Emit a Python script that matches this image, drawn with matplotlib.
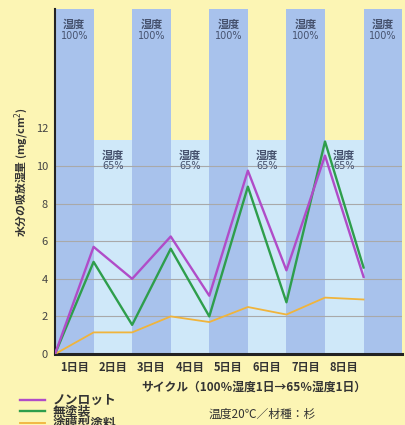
import matplotlib
matplotlib.use("Agg")
import matplotlib.pyplot as plt

plt.rcParams['font.family'] = ['Noto Sans CJK JP', 'DejaVu Sans']

# ==========================================
# データ (サイクル境界ごとの吸放湿量 mg/cm2)
# ==========================================
day_labels = ["1日目", "2日目", "3日目", "4日目", "5日目", "6日目", "7日目", "8日目"]
nonrot = [0, 5.7, 4.0, 6.25, 3.1, 9.75, 4.45, 10.55, 4.1]
mutoso = [0, 4.9, 1.55, 5.6, 2.0, 8.9, 2.75, 11.3, 4.6]
tomaku = [0, 1.15, 1.15, 2.0, 1.7, 2.5, 2.1, 3.0, 2.9]
series_names = ["ノンロット", "無塗装", "塗膜型塗料"]
y_ticks = [0, 2, 4, 6, 8, 10, 12]

BG = "#fcf5b4"
DARK = "#a8c2ec"
LIGHT = "#cfe8f9"
TXT = "#46526e"

fig = plt.figure(figsize=(4.06, 4.25), dpi=100, facecolor=BG)
ax = fig.add_axes([0.1355, 0.167, 0.855, 0.812])
ax.set_facecolor(BG)

YMAX = 18.35
LIGHT_TOP = 11.4
n_bands = 9
narrow = ["Liberation Sans Narrow", "DejaVu Sans"]

# 湿度の帯 (100% / 65%)
for i in range(n_bands):
    if i % 2 == 0:
        top, pct = YMAX, "100%"
        ax.axvspan(i, i + 1, ymin=0, ymax=1, color=DARK, lw=0, zorder=0)
    else:
        top, pct = LIGHT_TOP, "65%"
        ax.axvspan(i, i + 1, ymin=0, ymax=LIGHT_TOP / YMAX, color=LIGHT, lw=0, zorder=0)
    ax.text(i + 0.5, top - 0.5, "湿度", ha="center", va="top", fontsize=8,
            color=TXT, fontweight="bold", zorder=3)
    ax.text(i + 0.5, top - 1.15, pct, ha="center", va="top", fontsize=7,
            color=TXT, zorder=3, family=narrow)

# グリッド
for y in y_ticks[1:-1]:
    ax.axhline(y, color="#a9a9a9", lw=0.8, zorder=1)

x = list(range(len(nonrot)))
ax.plot(x, tomaku, color="#f0b43c", lw=1.3, zorder=4, label=series_names[2])
ax.plot(x, mutoso, color="#2e9e4c", lw=1.7, zorder=5, label=series_names[1])
ax.plot(x, nonrot, color="#b04cc8", lw=1.7, zorder=6, label=series_names[0])

ax.set_xlim(0, n_bands)
ax.set_ylim(0, YMAX)
ax.set_yticks(y_ticks)
ax.set_yticklabels([str(v) for v in y_ticks], fontsize=8, color="#444444")
ax.set_xticks([i + 0.5 for i in range(len(day_labels))])
ax.set_xticklabels(day_labels, fontsize=8, color="#333333", fontweight="bold")
ax.tick_params(length=0, pad=5)

for s in ["top", "right"]:
    ax.spines[s].set_visible(False)
ax.spines["left"].set_linewidth(1.5)
ax.spines["bottom"].set_linewidth(2.2)
ax.spines["left"].set_color("#222222")
ax.spines["bottom"].set_color("#222222")

# 縦軸ラベル (軸の中央より少し上に配置)
fig.text(22 / 406, 1 - 172 / 425, "水分の吸放湿量 (mg/cm$^2$)", rotation=90,
         ha="center", va="center", fontsize=7.8, fontweight="bold", color="#333333")

fig.text(0.625, 1 - 387 / 425, "サイクル（100％湿度1日→65％湿度1日）", ha="center",
         va="center", fontsize=8.5, fontweight="bold", color="#333333")
fig.text(0.645, 1 - 414 / 425, "温度20℃／材種：杉", ha="center", va="center",
         fontsize=8.5, color="#333333")

h, l = ax.get_legend_handles_labels()
order = [2, 1, 0]
leg = fig.legend([h[i] for i in order], [l[i] for i in order], loc="upper left",
                 bbox_to_anchor=(0.05, 1 - 394 / 425), frameon=False, fontsize=9.2,
                 handlelength=1.9, handletextpad=0.6, labelspacing=-0.1,
                 borderpad=0, borderaxespad=0)
for t in leg.get_texts():
    t.set_fontweight("bold")
    t.set_color("#333333")

fig.savefig("out.png", dpi=100, facecolor=BG)
